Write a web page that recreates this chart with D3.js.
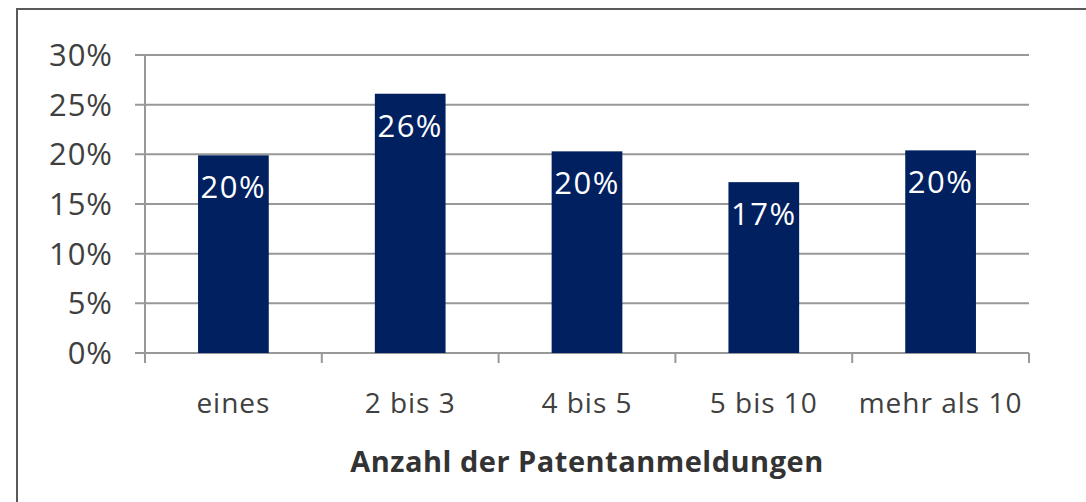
<!DOCTYPE html>
<html>
<head>
<meta charset="utf-8">
<script src="https://cdn.jsdelivr.net/npm/d3@7"></script>
<style>
  body { margin: 0; background: #fff; }
  text { font-family: "Open Sans", "DejaVu Sans", sans-serif; }
</style>
</head>
<body>
<div id="output"></div>
<script>
const width = 1086, height = 502;
const categories = ['eines', '2 bis 3', '4 bis 5', '5 bis 10', 'mehr als 10'];
const shares = [19.9, 26.1, 20.3, 17.2, 20.4];
const shareLabels = ['20%', '26%', '20%', '17%', '20%'];
const yTicks = [0, 5, 10, 15, 20, 25, 30];
const axisTitle = 'Anzahl der Patentanmeldungen';

const plot = {left: 145, right: 1029, top: 55, bottom: 353};
const textColor = '#404040', gridColor = '#989898', barColor = '#002060';

const svg = d3.select('#output').append('svg')
    .attr('width', width)
    .attr('height', height);

// frame around the chart area
svg.append('path')
    .attr('d', 'M17,' + (height + 5) + 'L17,9L' + (width + 5) + ',9')
    .attr('fill', 'none')
    .attr('stroke', '#5a5a5a')
    .attr('stroke-width', 2);

const x = d3.scaleBand()
    .domain(categories)
    .range([plot.left, plot.right])
    .paddingInner(0.6)
    .paddingOuter(0.3);

const y = d3.scaleLinear()
    .domain([0, 30])
    .range([plot.bottom, plot.top]);

// horizontal gridlines with left ticks
svg.append('g').selectAll('line')
    .data(yTicks)
    .enter().append('line')
    .attr('x1', plot.left - 10)
    .attr('x2', plot.right)
    .attr('y1', d => y(d))
    .attr('y2', d => y(d))
    .attr('stroke', gridColor)
    .attr('stroke-width', 2);

svg.append('g').selectAll('text')
    .data(yTicks)
    .enter().append('text')
    .attr('x', 113)
    .attr('y', d => y(d) + 11)
    .attr('text-anchor', 'end')
    .attr('font-size', 31)
    .attr('letter-spacing', 1)
    .attr('fill', textColor)
    .text(d => d + '%');

// y axis line
svg.append('line')
    .attr('x1', plot.left).attr('x2', plot.left)
    .attr('y1', plot.top).attr('y2', plot.bottom)
    .attr('stroke', gridColor)
    .attr('stroke-width', 2);

// category boundary ticks on x axis
svg.append('g').selectAll('line')
    .data(d3.range(categories.length + 1))
    .enter().append('line')
    .attr('x1', i => plot.left + i * (plot.right - plot.left) / categories.length)
    .attr('x2', i => plot.left + i * (plot.right - plot.left) / categories.length)
    .attr('y1', plot.bottom)
    .attr('y2', plot.bottom + 10)
    .attr('stroke', gridColor)
    .attr('stroke-width', 2);

// bars
svg.append('g').selectAll('rect')
    .data(shares)
    .enter().append('rect')
    .attr('x', (d, i) => x(categories[i]))
    .attr('width', x.bandwidth())
    .attr('y', d => y(d))
    .attr('height', d => y(0) - y(d))
    .attr('fill', barColor);

// value labels inside bars
svg.append('g').selectAll('text')
    .data(shares)
    .enter().append('text')
    .attr('x', (d, i) => x(categories[i]) + x.bandwidth() / 2)
    .attr('y', d => y(d) + 43)
    .attr('text-anchor', 'middle')
    .attr('font-size', 31)
    .attr('letter-spacing', 1.5)
    .attr('fill', '#fff')
    .text((d, i) => shareLabels[i]);

// category labels
svg.append('g').selectAll('text')
    .data(categories)
    .enter().append('text')
    .attr('x', d => x(d) + x.bandwidth() / 2)
    .attr('y', 413)
    .attr('text-anchor', 'middle')
    .attr('font-size', 28)
    .attr('letter-spacing', 1)
    .attr('fill', textColor)
    .text(d => d);

svg.append('text')
    .attr('x', (plot.left + plot.right) / 2)
    .attr('y', 472)
    .attr('text-anchor', 'middle')
    .attr('font-size', 29)
    .attr('font-weight', 'bold')
    .attr('letter-spacing', 0.5)
    .attr('fill', '#333')
    .text(axisTitle);
</script>
</body>
</html>
